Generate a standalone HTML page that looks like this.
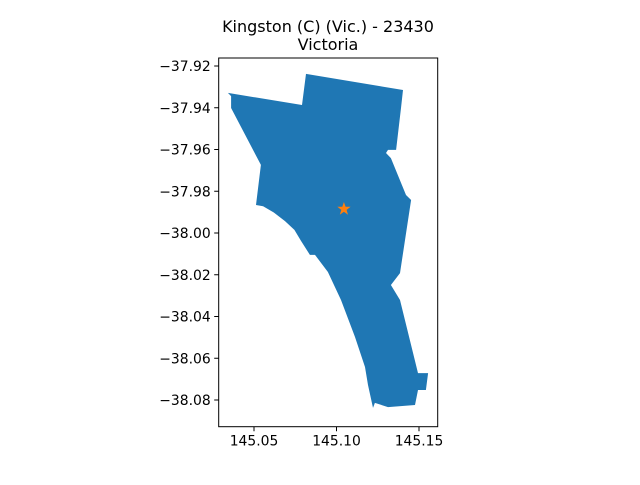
<!DOCTYPE html>
<html><head><meta charset="utf-8"><style>
body{margin:0;background:#fff;}
svg{font-family:"DejaVu Sans","Liberation Sans",sans-serif;}
</style></head><body>
<svg id="c" width="640" height="480"></svg>
<script>
const lons=[145.0342,145.0361,145.0361,145.0542,145.0512,145.0555,145.0620,145.0688,145.0745,145.0785,145.0839,145.0870,145.0948,145.1027,145.1112,145.1173,145.1191,145.1221,145.1233,145.1312,145.1476,145.1494,145.1542,145.1555,145.1494,145.1385,145.1330,145.1385,145.1415,145.1452,145.1421,145.1330,145.1300,145.1312,145.1361,145.1391,145.1403,145.0815,145.0791];
const lats=[-37.9329,-37.9344,-37.9401,-37.9674,-37.9866,-37.9872,-37.9902,-37.9943,-37.9985,-38.0038,-38.0105,-38.0105,-38.0187,-38.0321,-38.0498,-38.0642,-38.0728,-38.0838,-38.0814,-38.0834,-38.0824,-38.0752,-38.0752,-38.0671,-38.0671,-38.0321,-38.0249,-38.0192,-38.0034,-37.9842,-37.9818,-37.9641,-37.9617,-37.9602,-37.9602,-37.9401,-37.9315,-37.9238,-37.9387];
const centroid=[145.1045,-37.9885];
const xTicks=[145.05,145.10,145.15];
const xTickLabels=["145.05","145.10","145.15"];
const yTicks=[-37.92,-37.94,-37.96,-37.98,-38.00,-38.02,-38.04,-38.06,-38.08];
const yTickLabels=["\u221237.92","\u221237.94","\u221237.96","\u221237.98","\u221238.00","\u221238.02","\u221238.04","\u221238.06","\u221238.08"];
const L=218.7,R=437.7,T=58,B=426.7;
const sx=v=>254+(v-145.05)*1650;
const sy=v=>66-(v+37.92)*2087.5;
const NS="http://www.w3.org/2000/svg";
const svg=document.getElementById('c');
function mk(tag,attrs){const e=document.createElementNS(NS,tag);for(const k in attrs)e.setAttribute(k,attrs[k]);svg.appendChild(e);return e;}
let pts=lons.map((v,i)=>sx(v).toFixed(1)+","+sy(lats[i]).toFixed(1)).join(" ");
const poly=mk('polygon',{points:pts,fill:'#1f77b4'});


const cx=sx(centroid[0]),cy=sy(centroid[1]);let sp=[];
for(let i=0;i<10;i++){const r=i%2?2.8:7;const a=-Math.PI/2+i*Math.PI/5;sp.push((cx+r*Math.cos(a)).toFixed(1)+","+(cy+r*Math.sin(a)).toFixed(1));}
const st=mk('polygon',{points:sp.join(" "),fill:'#ff7f0e'});


const fr=mk('rect',{x:L,y:T,width:R-L,height:B-T,fill:'none',stroke:'#000','stroke-width':1});


xTicks.forEach((v,i)=>{const x=sx(v);mk('line',{x1:x,x2:x,y1:B,y2:B+4.5,stroke:'#000'});
const t=mk('text',{x:x,y:B+19,'text-anchor':'middle','font-size':'13.9px'});t.textContent=xTickLabels[i];

});
yTicks.forEach((v,i)=>{const y=sy(v);mk('line',{x1:L-4.5,x2:L,y1:y,y2:y,stroke:'#000'});
const t=mk('text',{x:L-8,y:y+5,'text-anchor':'end','font-size':'13.9px'});t.textContent=yTickLabels[i];

});
const t1=mk('text',{x:328,y:32,'text-anchor':'middle','font-size':'16px'});t1.textContent="Kingston (C) (Vic.) - 23430";


const t2=mk('text',{x:328,y:50,'text-anchor':'middle','font-size':'16px'});t2.textContent="Victoria";


</script>
</body></html>
